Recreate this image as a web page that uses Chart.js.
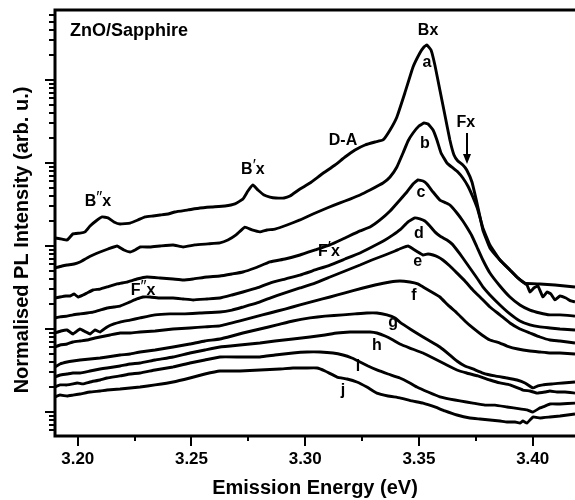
<!DOCTYPE html>
<html>
<head>
<meta charset="utf-8">
<title>ZnO/Sapphire PL spectra</title>
<script src="https://cdn.jsdelivr.net/npm/chart.js@4.4.0/dist/chart.umd.min.js"></script>
<style>
  html, body { margin: 0; padding: 0; background: #fff; }
  #pl { display: block; }
</style>
</head>
<body>
<canvas id="pl" width="575" height="500"></canvas>
<script>
// PL spectra a..j, photon energy in eV, normalised intensity (arb. u.)
const energyA = [3.1900, 3.1931, 3.1953, 3.1979, 3.2010, 3.2032, 3.2054, 3.2080, 3.2107, 3.2133, 3.2159, 3.2186, 3.2230, 3.2265, 3.2296, 3.2331, 3.2362, 3.2397, 3.2427, 3.2485, 3.2537, 3.2590, 3.2647, 3.2691, 3.2726, 3.2748, 3.2770, 3.2792, 3.2819, 3.2845, 3.2871, 3.2907, 3.2933, 3.2977, 3.3021, 3.3074, 3.3131, 3.3175, 3.3219, 3.3263, 3.3307, 3.3342, 3.3373, 3.3403, 3.3438, 3.3474, 3.3504, 3.3522, 3.3535, 3.3553, 3.3570, 3.3592, 3.3614, 3.3636, 3.3654, 3.3671, 3.3693, 3.3710, 3.3733, 3.3759, 3.3781, 3.3812, 3.3856, 3.3900, 3.3935, 3.3966, 3.4032, 3.4098, 3.4186];
const intensityA = [125, 121, 118, 140, 143, 148, 174, 200, 224, 218, 195, 184, 189, 206, 224, 230, 236, 243, 257, 272, 287, 295, 303, 321, 368, 460, 543, 473, 412, 389, 379, 379, 400, 486, 574, 737, 946, 1181, 1434, 1648, 1791, 1893, 2498, 3583, 6972, 14340, 21150, 24980, 26410, 22990, 15160, 7578, 3787, 1893, 1249, 1057, 946, 824, 590, 295, 156, 94.6, 67.8, 51.4, 41.2, 35.8, 34.9, 33.9, 32.1];

const energyB = [3.1900, 3.1931, 3.1953, 3.1984, 3.2010, 3.2041, 3.2067, 3.2098, 3.2133, 3.2173, 3.2203, 3.2230, 3.2252, 3.2274, 3.2318, 3.2362, 3.2419, 3.2463, 3.2515, 3.2573, 3.2625, 3.2660, 3.2696, 3.2735, 3.2766, 3.2801, 3.2832, 3.2867, 3.2920, 3.2977, 3.3034, 3.3096, 3.3153, 3.3197, 3.3241, 3.3285, 3.3342, 3.3373, 3.3403, 3.3430, 3.3452, 3.3474, 3.3500, 3.3522, 3.3540, 3.3562, 3.3579, 3.3597, 3.3623, 3.3649, 3.3671, 3.3693, 3.3715, 3.3737, 3.3759, 3.3781, 3.3812, 3.3856, 3.3900, 3.3935, 3.3957, 3.3975, 3.3988, 3.4005, 3.4023, 3.4045, 3.4063, 3.4080, 3.4098, 3.4120, 3.4146, 3.4168, 3.4186];
const intensityB = [54.3, 57.4, 59.0, 60.7, 64.2, 71.7, 77.9, 84.7, 92.0, 100, 89.5, 84.7, 89.5, 97.3, 97.3, 100, 103, 97.3, 103, 106, 109, 118, 136, 169, 156, 148, 156, 160, 179, 206, 243, 287, 330, 368, 412, 473, 574, 678, 895, 1320, 1841, 2299, 2791, 3033, 2950, 2498, 1893, 1320, 1000, 871, 779, 660, 528, 389, 272, 165, 103, 67.8, 51.4, 41.2, 36.8, 33.9, 27.9, 31.2, 33.0, 24.3, 27.9, 26.4, 22.4, 25.0, 23.6, 21.8, 21.2];

const energyC = [3.1900, 3.1922, 3.1948, 3.1966, 3.1984, 3.2001, 3.2023, 3.2041, 3.2067, 3.2098, 3.2129, 3.2173, 3.2216, 3.2260, 3.2304, 3.2362, 3.2419, 3.2463, 3.2507, 3.2568, 3.2625, 3.2678, 3.2726, 3.2779, 3.2845, 3.2911, 3.2977, 3.3043, 3.3109, 3.3175, 3.3241, 3.3285, 3.3329, 3.3373, 3.3416, 3.3447, 3.3474, 3.3495, 3.3518, 3.3535, 3.3562, 3.3592, 3.3619, 3.3636, 3.3667, 3.3693, 3.3710, 3.3733, 3.3755, 3.3781, 3.3812, 3.3856, 3.3900, 3.3944, 3.3988, 3.4032, 3.4076, 3.4120, 3.4186];
const intensityC = [23.6, 24.3, 25.0, 25.0, 26.4, 24.3, 25.7, 27.2, 29.5, 30.3, 32.1, 34.9, 36.8, 40.0, 42.3, 41.2, 40.0, 38.9, 40.0, 42.3, 43.5, 46.0, 48.6, 54.3, 64.2, 69.7, 77.9, 89.5, 103, 125, 152, 169, 206, 264, 358, 447, 559, 624, 607, 559, 447, 358, 330, 312, 250, 200, 169, 132, 97.3, 67.8, 47.3, 33.0, 24.3, 19.5, 16.9, 15.6, 14.8, 14.8, 14.3];

const energyD = [3.1900, 3.1922, 3.1953, 3.1979, 3.2010, 3.2041, 3.2067, 3.2098, 3.2129, 3.2159, 3.2186, 3.2208, 3.2230, 3.2260, 3.2287, 3.2318, 3.2362, 3.2419, 3.2463, 3.2507, 3.2568, 3.2625, 3.2678, 3.2726, 3.2788, 3.2845, 3.2911, 3.2977, 3.3043, 3.3109, 3.3175, 3.3241, 3.3293, 3.3351, 3.3386, 3.3416, 3.3452, 3.3482, 3.3504, 3.3526, 3.3548, 3.3570, 3.3592, 3.3623, 3.3645, 3.3667, 3.3693, 3.3724, 3.3755, 3.3781, 3.3812, 3.3856, 3.3900, 3.3944, 3.3988, 3.4032, 3.4076, 3.4120, 3.4186];
const intensityD = [13.6, 14.0, 14.3, 14.8, 15.2, 15.6, 16.0, 16.9, 17.9, 18.4, 18.9, 20.0, 21.2, 23.0, 24.3, 24.3, 23.6, 23.6, 23.0, 22.4, 23.0, 23.6, 25.7, 27.9, 31.2, 35.8, 40.0, 44.7, 51.4, 59.0, 69.7, 82.4, 97.3, 118, 136, 156, 195, 218, 212, 200, 174, 148, 132, 118, 106, 89.5, 71.7, 54.3, 41.2, 32.1, 25.7, 19.5, 15.2, 12.5, 11.2, 10.6, 10.3, 10.0, 9.73];

const energyE = [3.1900, 3.1926, 3.1953, 3.1979, 3.2010, 3.2036, 3.2054, 3.2076, 3.2098, 3.2129, 3.2159, 3.2186, 3.2230, 3.2274, 3.2340, 3.2405, 3.2471, 3.2537, 3.2625, 3.2678, 3.2726, 3.2788, 3.2845, 3.2911, 3.2977, 3.3043, 3.3109, 3.3175, 3.3241, 3.3293, 3.3351, 3.3395, 3.3425, 3.3452, 3.3474, 3.3495, 3.3518, 3.3540, 3.3562, 3.3584, 3.3605, 3.3636, 3.3667, 3.3702, 3.3737, 3.3777, 3.3812, 3.3856, 3.3900, 3.3944, 3.3988, 3.4032, 3.4076, 3.4120, 3.4186];
const intensityE = [8.95, 9.46, 9.73, 8.71, 10.0, 9.20, 8.71, 9.73, 9.20, 10.6, 11.5, 12.1, 12.8, 13.6, 14.8, 15.2, 15.2, 15.6, 16.0, 16.9, 18.4, 20.6, 23.6, 27.2, 31.2, 35.8, 42.3, 50.0, 59.0, 67.8, 77.9, 87.1, 94.6, 100, 92.0, 84.7, 77.9, 80.1, 77.9, 73.7, 67.8, 57.4, 47.3, 37.9, 29.5, 23.0, 18.4, 14.8, 11.8, 10.0, 8.95, 8.01, 7.37, 7.17, 6.78];

const energyF = [3.1900, 3.1922, 3.1953, 3.1979, 3.2010, 3.2041, 3.2076, 3.2098, 3.2142, 3.2186, 3.2230, 3.2274, 3.2340, 3.2419, 3.2493, 3.2559, 3.2625, 3.2713, 3.2779, 3.2845, 3.2911, 3.2977, 3.3043, 3.3109, 3.3175, 3.3254, 3.3307, 3.3373, 3.3416, 3.3460, 3.3495, 3.3518, 3.3548, 3.3592, 3.3627, 3.3667, 3.3702, 3.3737, 3.3777, 3.3812, 3.3856, 3.3887, 3.3935, 3.3988, 3.4032, 3.4076, 3.4120, 3.4186];
const intensityF = [6.07, 6.42, 6.60, 6.97, 7.17, 7.37, 7.79, 8.01, 8.47, 8.95, 8.95, 9.20, 9.46, 10.0, 10.3, 10.6, 10.9, 12.5, 14.0, 15.6, 17.4, 19.5, 21.8, 24.3, 27.2, 31.2, 33.9, 36.8, 37.9, 36.8, 34.9, 32.1, 28.7, 24.3, 19.5, 15.6, 12.5, 10.3, 8.47, 7.37, 6.78, 6.24, 5.74, 5.43, 5.28, 5.14, 5.14, 5.00];

const energyG = [3.1900, 3.1922, 3.1953, 3.1979, 3.2010, 3.2054, 3.2098, 3.2129, 3.2186, 3.2230, 3.2274, 3.2340, 3.2419, 3.2493, 3.2559, 3.2625, 3.2678, 3.2726, 3.2801, 3.2876, 3.2946, 3.3021, 3.3087, 3.3166, 3.3219, 3.3271, 3.3315, 3.3359, 3.3395, 3.3416, 3.3447, 3.3482, 3.3518, 3.3548, 3.3592, 3.3636, 3.3667, 3.3702, 3.3737, 3.3781, 3.3834, 3.3887, 3.3931, 3.3966, 3.4001, 3.4023, 3.4045, 3.4089, 3.4133, 3.4186];
const intensityG = [3.49, 3.79, 4.00, 4.12, 4.23, 4.35, 4.47, 4.60, 4.86, 5.00, 5.28, 5.59, 6.07, 6.60, 7.17, 7.58, 8.24, 8.95, 10.0, 11.2, 12.5, 13.6, 14.3, 14.8, 15.2, 15.6, 15.6, 14.8, 13.6, 12.1, 10.6, 9.20, 8.01, 7.17, 6.07, 4.86, 4.12, 3.58, 3.30, 2.95, 2.72, 2.57, 2.43, 2.24, 1.95, 2.06, 2.12, 2.18, 2.24, 2.30];

const energyH = [3.1900, 3.1922, 3.1953, 3.1979, 3.2010, 3.2054, 3.2098, 3.2129, 3.2186, 3.2230, 3.2274, 3.2340, 3.2419, 3.2493, 3.2559, 3.2625, 3.2713, 3.2801, 3.2867, 3.2946, 3.3021, 3.3087, 3.3140, 3.3197, 3.3241, 3.3285, 3.3315, 3.3351, 3.3386, 3.3416, 3.3460, 3.3518, 3.3562, 3.3614, 3.3667, 3.3710, 3.3759, 3.3812, 3.3856, 3.3900, 3.3957, 3.3988, 3.4019, 3.4054, 3.4076, 3.4107, 3.4142, 3.4186];
const intensityH = [2.64, 2.79, 2.87, 2.95, 2.95, 3.12, 3.30, 3.39, 3.58, 3.79, 3.89, 4.23, 4.60, 5.14, 5.59, 6.07, 6.42, 6.78, 7.17, 7.58, 8.01, 8.47, 8.95, 9.20, 9.20, 9.20, 8.95, 8.24, 7.37, 6.60, 5.90, 5.14, 4.47, 3.79, 3.21, 2.95, 2.72, 2.43, 2.24, 2.12, 1.84, 1.79, 1.69, 1.74, 1.79, 1.74, 1.74, 1.69];

const energyI = [3.1900, 3.1922, 3.1953, 3.1979, 3.1997, 3.2023, 3.2054, 3.2098, 3.2129, 3.2186, 3.2230, 3.2274, 3.2340, 3.2419, 3.2493, 3.2559, 3.2625, 3.2713, 3.2801, 3.2867, 3.2946, 3.3008, 3.3065, 3.3122, 3.3166, 3.3205, 3.3241, 3.3276, 3.3315, 3.3364, 3.3416, 3.3460, 3.3491, 3.3540, 3.3592, 3.3636, 3.3680, 3.3737, 3.3790, 3.3834, 3.3887, 3.3944, 3.3975, 3.4001, 3.4032, 3.4054, 3.4076, 3.4120, 3.4186];
const intensityI = [2.00, 2.12, 2.12, 2.18, 2.24, 2.18, 2.30, 2.43, 2.57, 2.72, 2.87, 2.95, 3.21, 3.49, 3.89, 4.23, 4.60, 4.60, 4.60, 4.86, 5.14, 5.28, 5.28, 5.14, 4.86, 4.47, 4.00, 3.58, 3.21, 2.87, 2.57, 2.24, 2.00, 1.74, 1.52, 1.43, 1.36, 1.28, 1.21, 1.21, 1.15, 1.09, 1.06, 1.00, 1.12, 1.18, 1.25, 1.25, 1.28];

const energyJ = [3.1900, 3.1922, 3.1953, 3.1979, 3.2010, 3.2054, 3.2098, 3.2129, 3.2186, 3.2230, 3.2274, 3.2340, 3.2419, 3.2493, 3.2559, 3.2625, 3.2713, 3.2801, 3.2889, 3.2946, 3.2999, 3.3052, 3.3087, 3.3140, 3.3184, 3.3227, 3.3271, 3.3315, 3.3364, 3.3416, 3.3469, 3.3518, 3.3570, 3.3614, 3.3667, 3.3724, 3.3768, 3.3812, 3.3856, 3.3887, 3.3922, 3.3944, 3.3957, 3.3975, 3.4001, 3.4032, 3.4076, 3.4120, 3.4186];
const intensityJ = [1.52, 1.60, 1.56, 1.60, 1.65, 1.74, 1.79, 1.84, 1.89, 1.95, 2.00, 2.12, 2.30, 2.57, 2.87, 3.12, 3.12, 3.21, 3.30, 3.39, 3.39, 3.39, 3.12, 2.64, 2.50, 2.30, 2.00, 1.69, 1.56, 1.48, 1.36, 1.28, 1.15, 1.03, 0.920, 0.847, 0.824, 0.801, 0.779, 0.758, 0.758, 0.737, 0.779, 0.737, 0.870, 0.847, 0.870, 0.895, 0.946];

const curveNames = ['a', 'b', 'c', 'd', 'e', 'f', 'g', 'h', 'i', 'j'];

// axis ticks
const energyTicks = [3.20, 3.25, 3.30, 3.35, 3.40];
const energyMinorTicks = [3.225, 3.275, 3.325, 3.375];
const intensityDecades = [0.1, 1, 10, 100, 1000, 10000];
const intensityMinorSteps = [2, 3, 4, 5, 6, 7, 8, 9];

// text drawn inside the plot, anchored in data units (eV, intensity)
const notes = [
  { text: 'ZnO/Sapphire', e: 3.1966, v: 39000, align: 'left', big: true },
  { text: 'Bx', e: 3.3540, v: 39000 },
  { text: 'a', e: 3.3535, v: 16000 },
  { text: 'Fx', e: 3.3706, v: 3033 },
  { text: 'D-A', e: 3.3166, v: 1841 },
  { text: 'B', prime: '′', tail: 'x', e: 3.2770, v: 824 },
  { text: 'B', prime: '″', tail: 'x', e: 3.2089, v: 339 },
  { text: 'b', e: 3.3526, v: 1694 },
  { text: 'c', e: 3.3509, v: 435 },
  { text: 'd', e: 3.3500, v: 143 },
  { text: 'F', prime: '′', tail: 'x', e: 3.3104, v: 84.7 },
  { text: 'e', e: 3.3495, v: 64.2 },
  { text: 'F', prime: '″', tail: 'x', e: 3.2287, v: 28.7 },
  { text: 'f', e: 3.3478, v: 25.0 },
  { text: 'g', e: 3.3386, v: 12.1 },
  { text: 'h', e: 3.3315, v: 6.24 },
  { text: 'i', e: 3.3232, v: 3.49 },
  { text: 'j', e: 3.3166, v: 1.79 }
];
// arrow marking the free exciton shoulder
const fxArrow = { e: 3.3710, from: 2299, to: 973 };

const FONT = "'Liberation Sans', Arial, Helvetica, sans-serif";
Chart.defaults.font.family = FONT;
Chart.defaults.color = '#000';

const curves = [
  [energyA, intensityA], [energyB, intensityB], [energyC, intensityC], [energyD, intensityD],
  [energyE, intensityE], [energyF, intensityF], [energyG, intensityG], [energyH, intensityH],
  [energyI, intensityI], [energyJ, intensityJ]
];

const datasets = curves.map(([en, it], k) => ({
  label: curveNames[k],
  data: en.map((e, i) => ({ x: e, y: it[i] })),
  borderColor: '#000',
  borderWidth: 2.9,
  borderJoinStyle: 'round',
  pointRadius: 0,
  tension: 0.1,
  fill: false
}));

const framePlugin = {
  id: 'frame',
  afterDraw(chart) {
    const { ctx, chartArea: a, scales: { x, y } } = chart;
    ctx.save();
    ctx.strokeStyle = '#000';
    ctx.fillStyle = '#000';

    // tick marks, outward
    ctx.lineWidth = 2;
    ctx.beginPath();
    energyTicks.forEach(v => {
      const px = Math.round(x.getPixelForValue(v));
      ctx.moveTo(px, a.bottom); ctx.lineTo(px, a.bottom + 10);
    });
    energyMinorTicks.forEach(v => {
      const px = Math.round(x.getPixelForValue(v));
      ctx.moveTo(px, a.bottom); ctx.lineTo(px, a.bottom + 5);
    });
    intensityDecades.forEach(d => {
      const py = Math.round(y.getPixelForValue(d));
      if (py >= a.top && py <= a.bottom) {
        ctx.moveTo(a.left, py); ctx.lineTo(a.left - 10, py);
      }
      intensityMinorSteps.forEach(k => {
        const pm = Math.round(y.getPixelForValue(d * k));
        if (pm >= a.top + 1 && pm <= a.bottom) {
          ctx.moveTo(a.left, pm); ctx.lineTo(a.left - 6, pm);
        }
      });
    });
    ctx.stroke();

    // axes and top border
    ctx.lineWidth = 3;
    ctx.beginPath();
    ctx.moveTo(a.left, a.top); ctx.lineTo(a.left, a.bottom); ctx.lineTo(a.right, a.bottom);
    ctx.moveTo(a.left - 1.5, a.top); ctx.lineTo(a.right, a.top);
    ctx.stroke();

    // y axis title
    ctx.save();
    ctx.translate(22, 240);
    ctx.rotate(-Math.PI / 2);
    ctx.font = 'bold 20px ' + FONT;
    ctx.textAlign = 'center';
    ctx.textBaseline = 'middle';
    ctx.fillText('Normalised PL Intensity (arb. u.)', 0, 0);
    ctx.restore();

    // labels
    const main = 'bold 16px ' + FONT;
    const sup = '17px ' + FONT;
    ctx.textBaseline = 'middle';
    notes.forEach(n => {
      const px = x.getPixelForValue(n.e);
      const py = y.getPixelForValue(n.v);
      if (n.prime) {
        ctx.font = main;
        const w1 = ctx.measureText(n.text).width;
        const w3 = ctx.measureText(n.tail).width;
        ctx.font = sup;
        const w2 = ctx.measureText(n.prime).width;
        let cx = px - (w1 + w2 + w3) / 2;
        ctx.textAlign = 'left';
        ctx.font = main;
        ctx.fillText(n.text, cx, py);
        cx += w1;
        ctx.font = sup;
        ctx.fillText(n.prime, cx, py - 4);
        cx += w2;
        ctx.font = main;
        ctx.fillText(n.tail, cx, py);
      } else {
        ctx.font = n.big ? 'bold 18px ' + FONT : main;
        ctx.textAlign = n.align || 'center';
        ctx.fillText(n.text, px, py);
      }
    });

    // Fx arrow
    const ax = Math.round(x.getPixelForValue(fxArrow.e));
    const y1 = y.getPixelForValue(fxArrow.from);
    const y2 = y.getPixelForValue(fxArrow.to);
    ctx.lineWidth = 2;
    ctx.beginPath();
    ctx.moveTo(ax, y1); ctx.lineTo(ax, y2 - 8);
    ctx.stroke();
    ctx.beginPath();
    ctx.moveTo(ax - 4, y2 - 10); ctx.lineTo(ax + 4, y2 - 10); ctx.lineTo(ax, y2);
    ctx.closePath();
    ctx.fill();

    ctx.restore();
  }
};

new Chart(document.getElementById('pl'), {
  type: 'line',
  data: { datasets },
  options: {
    responsive: false,
    animation: false,
    devicePixelRatio: 1,
    layout: { padding: { left: 55, top: 10, right: 0, bottom: 0 } },
    plugins: { legend: { display: false }, tooltip: { enabled: false } },
    scales: {
      x: {
        type: 'linear',
        min: 3.19,
        max: 3.4186,
        afterBuildTicks: s => { s.ticks = energyTicks.map(value => ({ value })); },
        afterFit: s => { s.height = 64; },
        grid: { display: false, drawTicks: false },
        border: { display: false },
        ticks: {
          padding: 13,
          maxRotation: 0,
          autoSkip: false,
          font: { size: 17, weight: 'bold' },
          callback: v => Number(v).toFixed(2)
        },
        title: {
          display: true,
          text: 'Emission Energy (eV)',
          font: { size: 20, weight: 'bold' },
          padding: { top: 0, bottom: 0 }
        }
      },
      y: {
        type: 'logarithmic',
        min: 0.514,
        max: 69700,
        display: false
      }
    }
  },
  plugins: [framePlugin]
});
</script>
</body>
</html>
